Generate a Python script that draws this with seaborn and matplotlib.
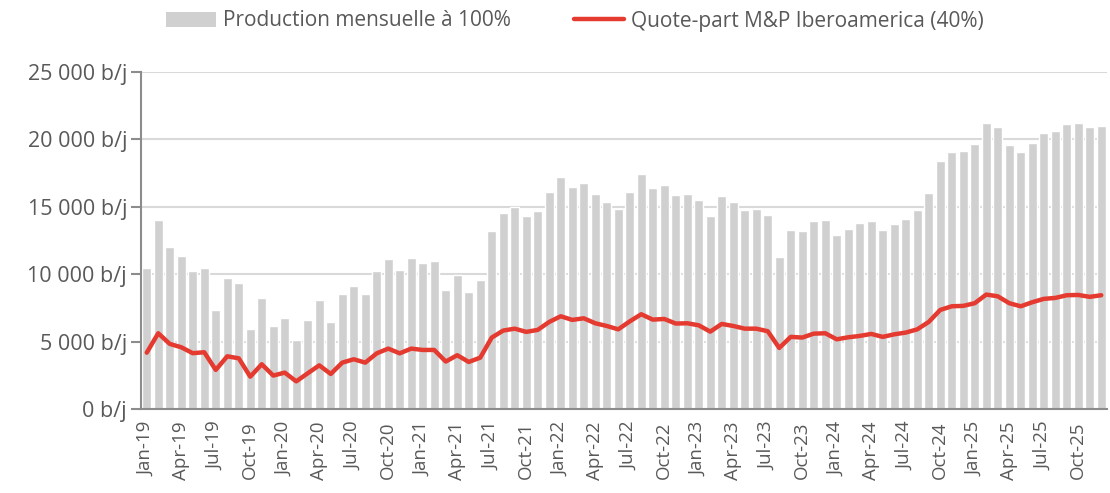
import numpy as np
import pandas as pd
import matplotlib
matplotlib.use("Agg")
import matplotlib.pyplot as plt
from matplotlib.patches import Patch
from matplotlib.lines import Line2D
from matplotlib.ticker import FixedLocator, FuncFormatter
import seaborn as sns

sns.set_theme(style="white")
plt.rcParams["font.family"] = ["Open Sans", "DejaVu Sans"]

# monthly categories Jan-19 .. Dec-25
months = pd.date_range("2019-01-01", "2025-12-01", freq="MS").strftime("%b-%y").tolist()

# production mensuelle a 100% (b/j)
production = [
    10470, 14030, 12030, 11380, 10250, 10470, 7350, 9700, 9330, 5940, 8240, 6160,
    6730, 5100, 6630, 8120, 6460, 8560, 9160, 8500, 10250, 11140, 10340, 11190,
    10840, 10960, 8840, 9950, 8710, 9580, 13190, 14550, 14970, 14350, 14700, 16090,
    17180, 16480, 16800, 15940, 15390, 14850, 16090, 17470, 16410, 16600, 15840, 15940,
    15540, 14350, 15790, 15370, 14750, 14870, 14400, 11260, 13260, 13170, 13910, 14030,
    12940, 13340, 13780, 13930, 13290, 13730, 14110, 14750, 16040, 18410, 19050, 19150,
    19650, 21210, 20910, 19580, 19080, 19750, 20470, 20640, 21130, 21230, 20890, 21010,
]

# quote-part M&P Iberoamerica (40%) (b/j)
share = [
    4180, 5620, 4830, 4580, 4140, 4210, 2900, 3910, 3760, 2400, 3320, 2480,
    2700, 2050, 2650, 3240, 2600, 3440, 3690, 3440, 4130, 4480, 4130, 4480,
    4380, 4380, 3520, 3990, 3490, 3810, 5300, 5820, 5960, 5720, 5870, 6460,
    6880, 6610, 6730, 6360, 6160, 5910, 6500, 7030, 6630, 6680, 6340, 6360,
    6210, 5740, 6310, 6160, 5960, 5960, 5770, 4530, 5350, 5300, 5590, 5620,
    5170, 5320, 5420, 5570, 5350, 5540, 5670, 5910, 6460, 7350, 7620, 7650,
    7850, 8490, 8360, 7850, 7620, 7920, 8170, 8240, 8440, 8460, 8320, 8440,
]

yticks = [0, 5000, 10000, 15000, 20000, 25000]

BAR_COLOR = "#d0d0d0"
LINE_COLOR = "#e53a30"
TEXT_COLOR = "#595959"
AXIS_COLOR = "#8c8c8c"

df = pd.DataFrame({"month": months, "production": production, "share": share})

fig = plt.figure(figsize=(11.10, 4.93), dpi=100)
ax = fig.add_axes([141 / 1110, 1 - 409 / 493, (1107 - 141) / 1110, (409 - 72) / 493])

sns.barplot(data=df, x="month", y="production", color=BAR_COLOR, width=0.78,
            saturation=1, ax=ax, zorder=2)
ax.plot(np.arange(len(df)), df["share"], color=LINE_COLOR, lw=3.2,
        solid_joinstyle="round", solid_capstyle="round", zorder=3)

ax.set_xlim(-0.5, len(df) - 0.5)
ax.set_ylim(0, 25000)
ax.set_xlabel("")
ax.set_ylabel("")

# y axis
ax.set_yticks(yticks)
ax.yaxis.set_major_formatter(FuncFormatter(lambda v, p: f"{int(v):,} b/j".replace(",", " ")))
ax.grid(axis="y", color="#d9d9d9", lw=1.5, zorder=0)
ax.set_axisbelow(True)

# x axis: labels every quarter, ticks at category boundaries
label_pos = np.arange(0, len(df), 3)
ax.set_xticks(label_pos)
ax.set_xticklabels([months[i] for i in label_pos], rotation=90)
ax.xaxis.set_minor_locator(FixedLocator(np.arange(-0.5, len(df), 3)))

ax.tick_params(axis="x", which="major", length=0, pad=9, labelsize=13.5, labelcolor=TEXT_COLOR)
ax.tick_params(axis="x", which="minor", length=7, width=1.5, color=AXIS_COLOR, direction="out")
ax.tick_params(axis="y", length=7, width=1.5, color=AXIS_COLOR, direction="out",
               pad=3, labelsize=15.5, labelcolor=TEXT_COLOR, left=True)

for side in ["top", "right"]:
    ax.spines[side].set_visible(False)
for side in ["left", "bottom"]:
    ax.spines[side].set_color(AXIS_COLOR)
    ax.spines[side].set_linewidth(1.5)
    ax.spines[side].set_zorder(4)

handles = [
    Patch(facecolor=BAR_COLOR, edgecolor="none", label="Production mensuelle à 100%"),
    Line2D([0], [0], color=LINE_COLOR, lw=3.2, label="Quote-part M&P Iberoamerica (40%)"),
]
fig.legend(handles=handles, loc="center", bbox_to_anchor=(0.518, 1 - 21 / 493), ncol=2,
           frameon=False, fontsize=15, labelcolor=TEXT_COLOR, handlelength=2.4,
           handleheight=0.75, handletextpad=0.35, columnspacing=3.0)

fig.savefig("out.png", dpi=100)
